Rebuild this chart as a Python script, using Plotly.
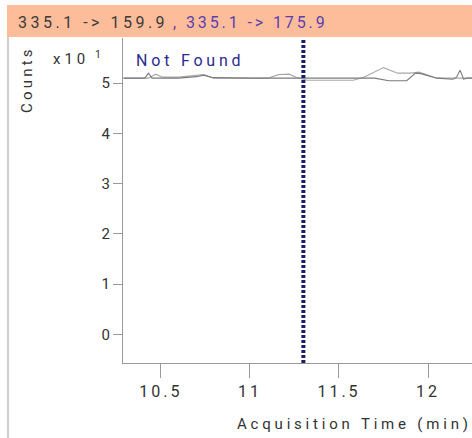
import plotly.graph_objects as go

# ---- data ----
time_a = [10.29, 10.41, 10.43, 10.45, 10.60, 10.70, 10.74, 10.79, 11.00, 11.30, 11.55, 11.70,
          11.78, 11.88, 11.93, 11.96, 12.05, 12.14, 12.16, 12.18, 12.20, 12.22, 12.26]
counts_a = [5.10, 5.10, 5.20, 5.10, 5.10, 5.13, 5.16, 5.11, 5.10, 5.10, 5.10, 5.10,
            5.05, 5.05, 5.20, 5.19, 5.10, 5.08, 5.12, 5.26, 5.08, 5.10, 5.10]

time_b = [10.29, 10.43, 10.47, 10.51, 10.60, 10.70, 10.74, 10.80, 11.10, 11.16, 11.22, 11.26,
          11.32, 11.58, 11.64, 11.75, 11.83, 11.90, 11.95, 12.05, 12.26]
counts_b = [5.10, 5.10, 5.18, 5.12, 5.12, 5.15, 5.17, 5.10, 5.10, 5.17, 5.18, 5.12,
            5.06, 5.06, 5.12, 5.31, 5.20, 5.20, 5.22, 5.10, 5.10]

marker_time = 11.30
x_ticks = [10.5, 11, 11.5, 12]
x_tick_labels = ["10.5", "11", "11.5", "12"]
y_ticks = [0, 1, 2, 3, 4, 5]
y_tick_labels = ["0", "1", "2", "3", "4", "5"]

header_left = "335.1 -> 159.9"
header_right = ", 335.1 -> 175.9"
status_text = "Not Found"
x_title = "Acquisition Time (min)"
y_title = "Counts"
scale_text = "x10"
scale_exp = "1"

FONT = "Roboto"

def spaced(t, sp=2, color=None):
    st = f"letter-spacing:{sp}px"
    if color:
        st += f";fill:{color}"
    return f'<span style="{st}">{t}</span>'

fig = go.Figure()
fig.add_trace(go.Scatter(x=time_b, y=counts_b, mode="lines",
                         line=dict(color="#a8a8a8", width=1.1), showlegend=False))
fig.add_trace(go.Scatter(x=time_a, y=counts_a, mode="lines",
                         line=dict(color="#7a7a7a", width=1.1), showlegend=False))

L, T, B, W, H = 123, 38, 75, 472, 438
PW = W - L
PH = H - T - B

def px(xp):
    return (xp - L) / PW

def py(yp):
    return (H - B - yp) / PH

# header band
fig.add_shape(type="rect", xref="paper", yref="paper",
              x0=px(7), x1=px(472), y0=py(37), y1=py(5),
              fillcolor="#fdbd9b", line=dict(width=0), layer="below")
# left border
fig.add_shape(type="line", xref="paper", yref="paper",
              x0=px(8), x1=px(8), y0=py(438), y1=py(37),
              line=dict(color="#cfcfcf", width=2))
# marker line
fig.add_shape(type="line", xref="x", yref="paper",
              x0=marker_time, x1=marker_time, y0=0, y1=1,
              line=dict(color="#1c1c6e", width=4, dash="3px,2px"))

fig.add_annotation(xref="paper", yref="paper", x=px(16), y=py(23),
                   xanchor="left", yanchor="middle", showarrow=False,
                   text=spaced(header_left, 3.5),
                   font=dict(family=FONT, size=16, color="#3a3a3a"))
fig.add_annotation(xref="paper", yref="paper", x=px(170.5), y=py(23),
                   xanchor="left", yanchor="middle", showarrow=False,
                   text=spaced(header_right, 2.9),
                   font=dict(family=FONT, size=16, color="#5a3fb0"))
fig.add_annotation(xref="paper", yref="paper", x=px(51), y=py(58),
                   xanchor="left", yanchor="middle", showarrow=False,
                   text=spaced(scale_text, 4) + "<sup>" + spaced(" " + scale_exp, 3) + "</sup>",
                   font=dict(family=FONT, size=15, color="#333333"))
fig.add_annotation(xref="paper", yref="paper", x=px(27), y=py(80),
                   xanchor="center", yanchor="middle", showarrow=False, textangle=-90,
                   text=spaced(y_title, 3.2),
                   font=dict(family=FONT, size=15, color="#333333"))
fig.add_annotation(xref="paper", yref="paper", x=px(134), y=py(60),
                   xanchor="left", yanchor="middle", showarrow=False,
                   text=spaced(status_text, 3.8),
                   font=dict(family=FONT, size=16, color="#2b2b8c"))
fig.add_annotation(xref="paper", yref="paper", x=px(354.5), y=py(424),
                   xanchor="center", yanchor="middle", showarrow=False,
                   text=spaced(x_title, 3.8),
                   font=dict(family=FONT, size=15, color="#333333"))

fig.update_layout(
    width=W, height=H,
    margin=dict(l=L, r=0, t=T, b=B),
    paper_bgcolor="white", plot_bgcolor="white",
    xaxis=dict(range=[10.287, 12.247], tickvals=x_ticks,
               ticktext=[spaced(t, 3) for t in x_tick_labels],
               ticks="outside", ticklen=14, tickcolor="#999999", tickwidth=1,
               showline=True, linecolor="#999999", linewidth=1,
               showgrid=False, zeroline=False,
               tickfont=dict(family=FONT, size=16, color="#333333")),
    yaxis=dict(range=[-0.572, 5.90], tickvals=y_ticks, ticktext=y_tick_labels,
               ticks="outside", ticklen=9, tickcolor="#999999", tickwidth=1,
               showline=True, linecolor="#999999", linewidth=1,
               showgrid=False, zeroline=False,
               tickfont=dict(family=FONT, size=15, color="#333333")),
)

fig.write_html("out.html")
